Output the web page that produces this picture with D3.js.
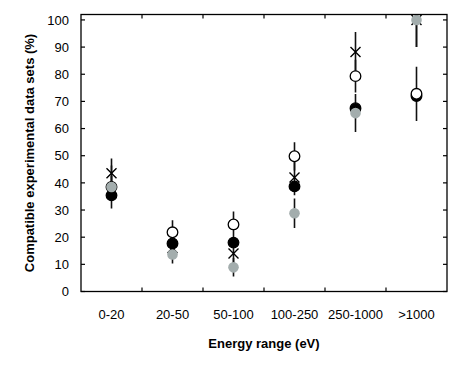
<!DOCTYPE html>
<html>
<head>
<meta charset="utf-8">
<script src="https://cdn.jsdelivr.net/npm/d3@7"></script>
<style>
  body { margin: 0; background: #fff; }
  text { font-family: "Liberation Sans", Arial, sans-serif; }
</style>
</head>
<body>
<div id="container"></div>
<script>
/* data */
var categories = ["0-20", "20-50", "50-100", "100-250", "250-1000", ">1000"];
var yTicks = [0, 10, 20, 30, 40, 50, 60, 70, 80, 90, 100];

var crossVals = [43.5, 16, 14, 42, 88.2, 100];
var crossErr  = [5.5, 3, 5, 6.6, 7.4, 10];
var blackVals = [35.4, 17.7, 18, 38.7, 67.5, 72];
var openVals  = [38.5, 21.8, 24.7, 49.8, 79.3, 72.8];
var openErr   = [4, 4.4, 4.8, 5.2, 6, 10];
var grayVals  = [38.5, 13.6, 8.9, 28.8, 65.7, 100];
var grayErr   = [7.9, 3.3, 3.4, 5.4, 7, 10];

/* setup the dimensions */
var margin = { top: 14.5, left: 81, right: 17, bottom: 87.5 },
    W = 464, H = 379,
    width = W - margin.left - margin.right,
    height = H - margin.top - margin.bottom;

var svg = d3.select("#container").append("svg")
            .attr("width", W).attr("height", H);

var g = svg.append("g")
           .attr("transform", "translate(" + margin.left + "," + margin.top + ")");

var x = d3.scaleBand().domain(categories).range([0, width]);
var y = d3.scaleLinear().domain([0, 102]).range([height, 0]);
var cx = function(i) { return x(categories[i]) + x.bandwidth() / 2; };

svg.append("defs").append("clipPath").attr("id", "plot")
   .append("rect").attr("width", width).attr("height", height);

var plot = g.append("g").attr("clip-path", "url(#plot)");

/* error bars first, markers on top */
function bars(vals, errs) {
  plot.append("g").selectAll("line")
    .data(vals)
    .enter().append("line")
      .attr("x1", function(d, i) { return cx(i); })
      .attr("x2", function(d, i) { return cx(i); })
      .attr("y1", function(d, i) { return y(d + errs[i]); })
      .attr("y2", function(d, i) { return y(d - errs[i]); })
      .attr("stroke", "#111").attr("stroke-width", 1.6);
}
bars(crossVals, crossErr);
bars(openVals, openErr);
bars(grayVals, grayErr);

/* crosses */
var cs = 5;
plot.append("g").selectAll("path")
  .data(crossVals)
  .enter().append("path")
    .attr("d", function(d, i) {
      var px = cx(i), py = y(d);
      return "M" + (px - cs) + "," + (py - cs) + "L" + (px + cs) + "," + (py + cs) +
             "M" + (px - cs) + "," + (py + cs) + "L" + (px + cs) + "," + (py - cs);
    })
    .attr("stroke", "#000").attr("stroke-width", 1.4).attr("fill", "none");

function dots(vals, fill, stroke) {
  plot.append("g").selectAll("circle")
    .data(vals)
    .enter().append("circle")
      .attr("cx", function(d, i) { return cx(i); })
      .attr("cy", function(d) { return y(d); })
      .attr("r", 5.3)
      .attr("fill", fill)
      .attr("stroke", stroke)
      .attr("stroke-width", 1.3);
}
dots(blackVals, "#000", "#000");
dots(openVals, "#fff", "#000");
dots(grayVals, "#a3adad", "none");

/* frame and inward ticks */
g.append("rect").attr("width", width).attr("height", height)
 .attr("fill", "none").attr("stroke", "#000").attr("stroke-width", 1.3);

var tl = 4;
var bounds = categories.slice(1).map(function(c) { return x(c); });
g.append("g").selectAll("line").data(bounds).enter().append("line")
  .attr("x1", function(d) { return d; }).attr("x2", function(d) { return d; })
  .attr("y1", height).attr("y2", height - tl)
  .attr("stroke", "#000").attr("stroke-width", 1.2);
g.append("g").selectAll("line").data(bounds).enter().append("line")
  .attr("x1", function(d) { return d; }).attr("x2", function(d) { return d; })
  .attr("y1", 0).attr("y2", tl)
  .attr("stroke", "#000").attr("stroke-width", 1.2);
g.append("g").selectAll("line").data(yTicks).enter().append("line")
  .attr("x1", 0).attr("x2", tl)
  .attr("y1", function(d) { return y(d); }).attr("y2", function(d) { return y(d); })
  .attr("stroke", "#000").attr("stroke-width", 1.2);
g.append("g").selectAll("line").data(yTicks).enter().append("line")
  .attr("x1", width).attr("x2", width - tl)
  .attr("y1", function(d) { return y(d); }).attr("y2", function(d) { return y(d); })
  .attr("stroke", "#000").attr("stroke-width", 1.2);

/* tick labels */
g.append("g").selectAll("text").data(yTicks).enter().append("text")
  .attr("x", -12).attr("y", function(d) { return y(d); })
  .attr("dy", "0.36em").attr("text-anchor", "end")
  .attr("font-size", 13).text(function(d) { return d; });

g.append("g").selectAll("text").data(categories).enter().append("text")
  .attr("x", function(d, i) { return cx(i); }).attr("y", height + 27)
  .attr("text-anchor", "middle").attr("font-size", 13)
  .text(function(d) { return d; });

/* axis titles */
g.append("text")
  .attr("x", width / 2).attr("y", height + 56)
  .attr("text-anchor", "middle").attr("font-size", 13).attr("font-weight", "bold")
  .text("Energy range (eV)");

g.append("text")
  .attr("transform", "translate(" + (-47) + "," + (height / 2) + ") rotate(-90)")
  .attr("text-anchor", "middle").attr("font-size", 13).attr("font-weight", "bold")
  .text("Compatible experimental data sets (%)");
</script>
</body>
</html>
